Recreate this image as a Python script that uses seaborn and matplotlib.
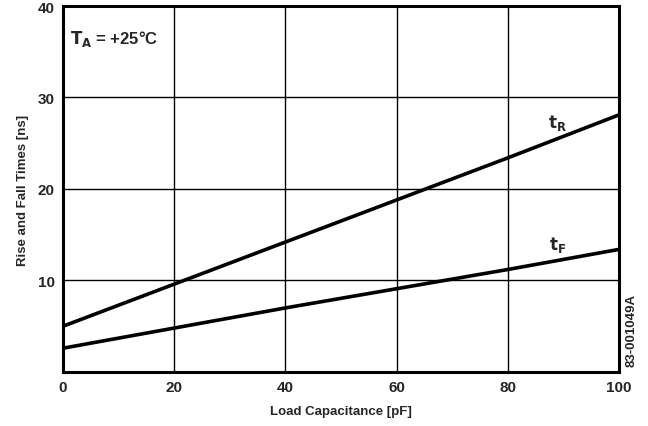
import numpy as np
import pandas as pd
import matplotlib
matplotlib.use("Agg")
import matplotlib.pyplot as plt
import seaborn as sns

# values
load_pf = [0, 20, 40, 60, 80, 100]
rise_ns = [5.0, 9.6, 14.2, 18.8, 23.4, 28.1]
fall_ns = [2.6, 4.8, 7.0, 9.1, 11.2, 13.4]

df = pd.DataFrame({"load": load_pf * 2,
                   "time": rise_ns + fall_ns,
                   "edge": ["tR"] * len(load_pf) + ["tF"] * len(load_pf)})

sns.set_theme(style="white")
plt.rcParams["font.family"] = ["Liberation Sans", "DejaVu Sans"]
plt.rcParams["font.weight"] = "bold"

fig = plt.figure(figsize=(6.48, 4.27), dpi=100)
ax = fig.add_axes([0.0972, 0.1265, 0.8580, 0.8571])

sns.lineplot(data=df, x="load", y="time", hue="edge",
             palette={"tR": "black", "tF": "black"},
             linewidth=2.6, legend=False, ax=ax)

ax.set_xlim(0, 100)
ax.set_ylim(0, 40)
ax.set_xticks([0, 20, 40, 60, 80, 100])
ax.set_yticks([10, 20, 30, 40])
ax.grid(True, color="black", linewidth=1.0)
ax.tick_params(length=0, labelsize=11, pad=6)
for lab in ax.get_xticklabels() + ax.get_yticklabels():
    lab.set_fontweight("bold")
for sp in ax.spines.values():
    sp.set_color("black")
    sp.set_linewidth(2.2)

ax.set_xlabel("Load Capacitance [pF]", fontsize=9.5, fontweight="bold", labelpad=8)
ax.set_ylabel("Rise and Fall Times [ns]", fontsize=9.5, fontweight="bold", labelpad=6)

ax.text(1.3, 36.5, r"$\mathbf{T_A}$ = +25°C", fontsize=12, fontweight="bold",
        va="center", ha="left")
ax.text(89, 27.3, r"$\mathbf{t_R}$", fontsize=12, ha="center", va="center")
ax.text(89, 14.0, r"$\mathbf{t_F}$", fontsize=12, ha="center", va="center")

fig.text(0.975, 0.227, "83-001049A", rotation=90, ha="center", va="center",
         fontsize=9.5, fontweight="bold")

fig.savefig("out.png", dpi=100)
